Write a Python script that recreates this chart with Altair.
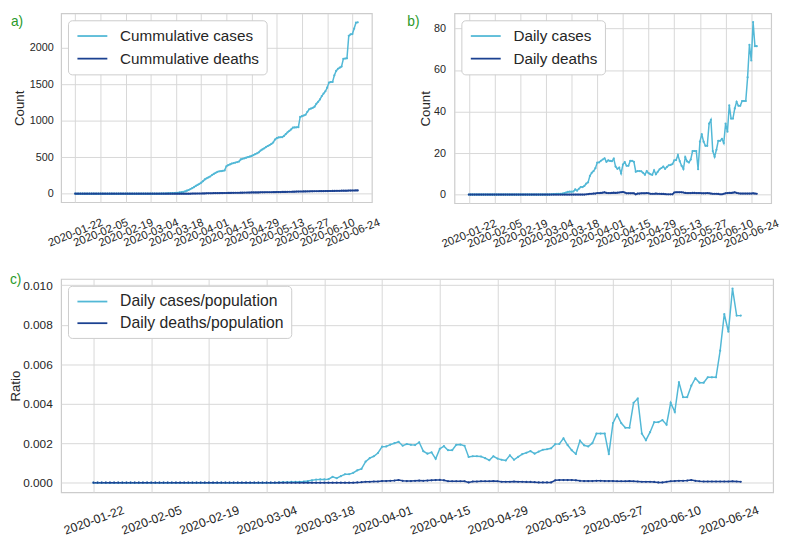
import altair as alt
import pandas as pd

# ---------------- data ----------------
START_DATE = "2020-01-22"

cum_cases = [0] * 48 + [
    1, 1, 2, 3, 4, 5, 7, 8, 10, 12, 16, 20, 25, 31, 40, 50, 62, 75, 88, 105, 120, 135,
    150, 170, 195, 210, 222, 235, 255, 270, 285, 298, 305, 308, 312, 318, 375, 390, 400,
    412, 418, 425, 432, 440, 468, 478, 484, 492, 500, 508, 516, 528, 540, 552, 566, 590,
    606, 620, 638, 652, 665, 680, 700, 740, 760, 770, 772, 773, 790, 815, 840, 860, 880,
    905, 907, 908, 910, 1050, 1060, 1070, 1080, 1120, 1155, 1165, 1175, 1190, 1230, 1258,
    1290, 1335, 1370, 1402, 1450, 1520, 1527, 1530, 1620, 1680, 1710, 1725, 1740, 1845,
    1850, 1852, 2160, 2180, 2185, 2260, 2340, 2345]

cum_deaths = [0] * 64 + [
    0, 1, 1, 1, 2, 2, 2, 3, 3, 4,
    4, 5, 5, 6, 6, 7, 7, 8, 8, 9,
    9, 10, 10, 11, 11, 12, 12, 12, 13, 13,
    14, 14, 15, 15, 16, 16, 17, 17, 17, 18,
    18, 18, 19, 19, 19, 19, 20, 20, 21, 22,
    22, 23, 24, 24, 25, 26, 26, 27, 27, 28,
    28, 29, 29, 30, 30, 31, 31, 32, 32, 33,
    33, 33, 34, 34, 34, 35, 35, 36, 36, 37,
    37, 38, 39, 39, 40, 40, 41, 41, 42, 42,
    43, 43, 44, 44]

daily_cases = [0.0] * 45 + [
    0.1, 0.2, 0.2, 0.3, 0.3, 0.4, 0.5, 0.7, 1.0, 1.3, 1.4, 1.4, 1.5, 2.5, 1.9, 2.8, 3.6,
    3.6, 4.2, 5.3, 5.9, 9.0, 10.5, 11.3, 12.7,
    15.4, 15.5, 16.3, 16.9, 17.5, 15.8, 16.5, 16.2, 16.1, 17.3,
    13.5, 12.4, 13.0, 10.2, 14.5, 15.6, 13.9, 13.9, 16.2, 16.3,
    15.8, 11.0, 11.3, 11.3, 11.2, 10.5, 9.6, 11.3, 10.3, 9.8,
    9.5, 11.7, 9.8, 11.0, 12.2, 12.8, 13.5, 12.4, 13.3, 14.1,
    14.3, 14.7, 16.5, 16.6, 19.0, 16.1, 13.9, 12.3, 18.0, 16.0,
    15.5, 16.9, 21.0, 21.0, 21.0, 12.2, 25.5, 29.1, 25.5, 23.5,
    23.5, 34.2, 36.0, 21.0, 18.2, 21.6, 25.9, 25.9, 26.8, 24.8,
    34.2, 30.3, 43.0, 36.6, 36.6, 41.5, 44.7, 42.8, 42.8, 45.1,
    45.1, 45.1, 56.5, 72.2, 64.6, 83.1, 71.5, 71.5]

daily_deaths = [0.0] * 64 + [
    0.1, 0.2, 0.4, 0.4, 0.5, 0.5, 0.7, 0.7, 0.8, 0.9,
    1.1, 0.8, 0.7, 0.7, 0.8, 0.9, 0.8, 0.9, 1.0, 1.1,
    1.2, 1.0, 0.6, 0.6, 0.6, 0.6, 0.6, 0.1, 0.5, 0.5,
    0.6, 0.6, 0.6, 0.7, 0.6, 0.4, 0.4, 0.4, 0.5, 0.4,
    0.4, 0.3, 0.3, 0.2, 0.1, 0.1, 0.1, 0.1, 1.0, 1.1,
    1.1, 1.1, 1.1, 1.0, 0.8, 0.7, 0.7, 0.7, 0.8, 0.8,
    0.7, 0.7, 0.7, 0.6, 0.6, 0.6, 0.7, 0.6, 0.5, 0.4,
    0.4, 0.4, 0.3, 0.1, 0.1, 0.4, 0.6, 0.7, 0.8, 0.8,
    0.9, 1.1, 0.8, 0.6, 0.5, 0.5, 0.5, 0.5, 0.5, 0.5,
    0.5, 0.6, 0.5, 0.4]

POPULATION = 8450  # divisor that turns daily counts into the ratio of panel c

x_tick_labels = ["2020-01-22", "2020-02-05", "2020-02-19", "2020-03-04", "2020-03-18",
                 "2020-04-01", "2020-04-15", "2020-04-29", "2020-05-13", "2020-05-27",
                 "2020-06-10", "2020-06-24"]
y_ticks_a = [0, 500, 1000, 1500, 2000]
y_ticks_b = [0, 20, 40, 60, 80]
y_ticks_c = [0.0, 0.002, 0.004, 0.006, 0.008, 0.010]

names_a = ["Cummulative cases", "Cummulative deaths"]
names_b = ["Daily cases", "Daily deaths"]
names_c = ["Daily cases/population", "Daily deaths/population"]

CASES_COLOR = "#52b8d6"
DEATHS_COLOR = "#1b4191"
GREEN = "#2a9a2a"
TEXT = "#262626"
GRID = "#d7d7d7"

# a long horizontal legend line drawn inside a small symbol box (keeps rows tight)
LEGEND_LINE = "M-0.8,0H3"

# ---------------- helpers ----------------
dates = pd.date_range(START_DATE, periods=len(daily_cases), freq="D").strftime(
    "%Y-%m-%dT00:00:00Z").tolist()


def dt(s, hours=0, minutes=0):
    y, m, d = map(int, s.split("-"))
    return alt.DateTime(year=y, month=m, date=d, hours=hours, minutes=minutes, utc=True)


x_values = [dt(s) for s in x_tick_labels]
x_domain = [dt("2020-01-14", 3, 36), dt("2020-07-04", 20, 24)]


def long_df(a, b, names):
    return pd.DataFrame({
        "date": dates + dates,
        "value": list(a) + list(b),
        "series": [names[0]] * len(a) + [names[1]] * len(b),
    })


def panel(df, names, width, height, ydom, yticks, yfmt, ytitle, title_x,
          label, label_x, label_y, xfont, xangle, xpad, yfont, ypad,
          legend_font, legend_row):
    xaxis = alt.Axis(values=x_values, format="%Y-%m-%d", labelAngle=xangle,
                     labelAlign="center", labelBaseline="middle", labelPadding=xpad,
                     labelOverlap=False, labelFlush=False, labelFontSize=xfont,
                     grid=True, ticks=False, domain=False, title=None)
    yaxis = alt.Axis(values=yticks, format=yfmt, labelFontSize=yfont, labelPadding=ypad,
                     grid=True, ticks=False, domain=False, title=ytitle,
                     titleFontSize=13.5, titleAngle=270, titleX=title_x,
                     titleY=height / 2, titleAlign="center", titleBaseline="middle")
    legend = alt.Legend(title=None, orient="top-left", offset=7, labelFontSize=legend_font,
                        labelLimit=400, rowPadding=legend_row, symbolType=LEGEND_LINE,
                        symbolSize=256, symbolStrokeWidth=1.8, labelOffset=28, padding=7)
    line = alt.Chart(df).mark_line(
        strokeWidth=1.5, point=alt.OverlayMarkDef(size=5, filled=True)
    ).encode(
        x=alt.X("date:T", scale=alt.Scale(type="utc", domain=x_domain, nice=False), axis=xaxis),
        y=alt.Y("value:Q", scale=alt.Scale(domain=ydom, nice=False, zero=False), axis=yaxis),
        color=alt.Color("series:N", scale=alt.Scale(domain=names, range=[CASES_COLOR, DEATHS_COLOR]),
                        legend=legend),
    )
    lab = alt.Chart(pd.DataFrame({"t": [label]})).mark_text(
        align="left", baseline="top", fontSize=14, color=GREEN
    ).encode(text="t:N", x=alt.value(label_x), y=alt.value(label_y))
    return alt.layer(line, lab).properties(width=width, height=height)


df_a = long_df(cum_cases, cum_deaths, names_a)
df_b = long_df(daily_cases, daily_deaths, names_b)
df_c = long_df([v / POPULATION for v in daily_cases],
               [v / POPULATION for v in daily_deaths], names_c)

pa = panel(df_a, names_a, 316, 192, [-117.5, 2467.5], y_ticks_a, "d", "Count", -42,
           "a)", -51, 2, 11.5, 338, 31, 11, 8, 15.5, 5)
pb = panel(df_b, names_b, 322, 193, [-4.16, 87.3], y_ticks_b, "d", "Count", -29,
           "b)", -48, 2, 11.5, 338, 31, 11, 9, 15.5, 5)
pc = panel(df_c, names_c, 724, 217, [-0.00049, 0.01032], y_ticks_c, ".3f", "Ratio", -46,
           "c)", -52, -6, 12.5, 340, 28, 12, 9, 16, 5)

top = alt.hconcat(pa, pb, spacing=24).resolve_scale(color="independent")
chart = alt.vconcat(top, pc, spacing=22).resolve_scale(color="independent").properties(
    padding={"left": 0, "top": 0, "right": 0, "bottom": 0}
).configure(
    font="Liberation Sans"
).configure_view(
    stroke="#cccccc", strokeWidth=1.2
).configure_axis(
    gridColor=GRID, gridWidth=1, labelColor=TEXT, titleColor=TEXT, titleFontWeight="normal"
).configure_legend(
    fillColor="white", strokeColor="#cccccc", cornerRadius=4, labelColor=TEXT
)

chart.save("out.html", embed_options={"renderer": "svg", "actions": False})
